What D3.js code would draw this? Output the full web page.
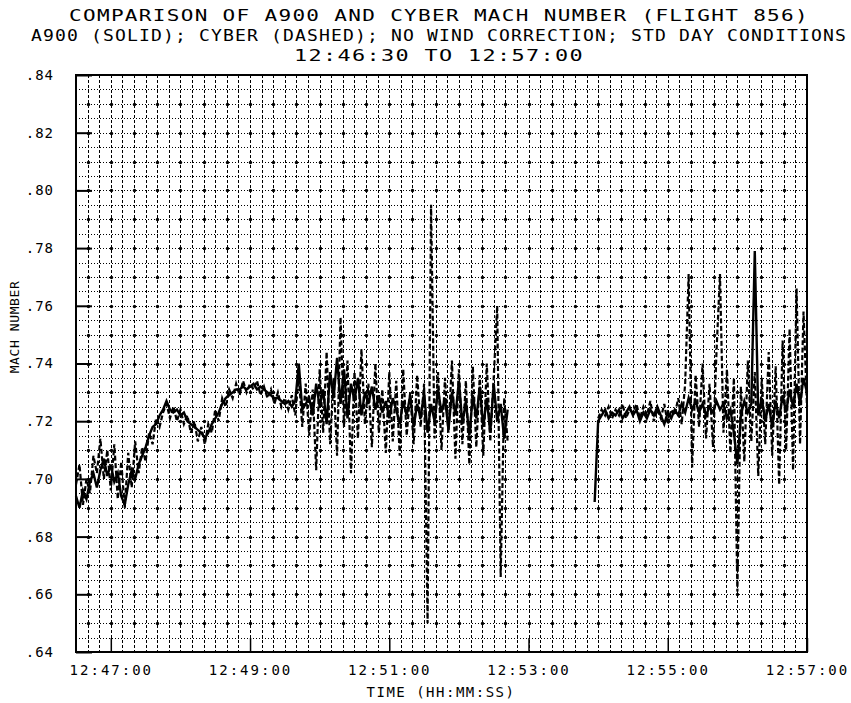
<!DOCTYPE html>
<html>
<head>
<meta charset="utf-8">
<script src="https://cdn.jsdelivr.net/npm/d3@7"></script>
<style>
  body { margin: 0; background: #fff; }
  text { font-family: "DejaVu Sans Mono", monospace; fill: #000; }
</style>
</head>
<body>
<svg id="chart" width="851" height="703"></svg>
<script>
// chart values
const titleLines = [
    "COMPARISON OF A900 AND CYBER MACH NUMBER (FLIGHT 856)",
    "A900 (SOLID); CYBER (DASHED); NO WIND CORRECTION; STD DAY CONDITIONS",
    "12:46:30 TO 12:57:00"
];
const yTicks = [0.64, 0.66, 0.68, 0.70, 0.72, 0.74, 0.76, 0.78, 0.80, 0.82, 0.84];
const yTickLabels = [".64", ".66", ".68", ".70", ".72", ".74", ".76", ".78", ".80", ".82", ".84"];
// seconds after 12:46:30
const xTicks = [30, 150, 270, 390, 510, 630];
const xTickLabels = ["12:47:00", "12:49:00", "12:51:00", "12:53:00", "12:55:00", "12:57:00"];
const sampleSeconds = 3; // one reading every 3 s from 12:46:30

const a900Mach = [
    0.694, 0.690, 0.696, 0.693, 0.699, 0.702, 0.697, 0.703, 0.707, 0.701,
    0.705, 0.699, 0.702, 0.694, 0.691, 0.698, 0.703, 0.700, 0.705, 0.708,
    0.711, 0.715, 0.718, 0.719, 0.722, 0.724, 0.727, 0.724, 0.723, 0.724,
    0.722, 0.723, 0.720, 0.719, 0.718, 0.717, 0.716, 0.714, 0.716, 0.719,
    0.721, 0.723, 0.726, 0.728, 0.729, 0.730, 0.731, 0.731, 0.732, 0.731,
    0.732, 0.733, 0.731, 0.732, 0.731, 0.730, 0.729, 0.728, 0.728, 0.727,
    0.726, 0.727, 0.725, 0.727, 0.740, 0.724, 0.726, 0.728, 0.722, 0.733,
    0.725, 0.731, 0.719, 0.737, 0.728, 0.742, 0.726, 0.738, 0.721, 0.733,
    0.727, 0.735, 0.722, 0.730, 0.726, 0.732, 0.724, 0.729, 0.723, 0.727,
    0.721, 0.728, 0.724, 0.719, 0.727, 0.722, 0.729, 0.718, 0.726, 0.721,
    0.730, 0.716, 0.726, 0.720, 0.731, 0.723, 0.728, 0.717, 0.730, 0.722,
    0.734, 0.719, 0.727, 0.715, 0.729, 0.721, 0.732, 0.718, 0.728, 0.716,
    0.733, 0.720, 0.726, 0.714, 0.724, null, null, null, null, null,
    null, null, null, null, null, null, null, null, null, null,
    null, null, null, null, null, null, null, null, null, 0.692,
    0.720, 0.722, 0.724, 0.721, 0.723, 0.722, 0.724, 0.721, 0.723, 0.725,
    0.722, 0.724, 0.720, 0.723, 0.721, 0.724, 0.722, 0.725, 0.722, 0.719,
    0.723, 0.721, 0.724, 0.722, 0.726, 0.723, 0.728, 0.724, 0.727, 0.723,
    0.726, 0.722, 0.725, 0.723, 0.727, 0.724, 0.726, 0.721, 0.724, 0.716,
    0.705, 0.722, 0.727, 0.723, 0.726, 0.779, 0.722, 0.728, 0.720, 0.726,
    0.718, 0.727, 0.721, 0.729, 0.723, 0.731, 0.725, 0.733, 0.726, 0.735,
    0.730
];

const cyberMach = [
    0.698, 0.705, 0.691, 0.700, 0.695, 0.708, 0.702, 0.714, 0.700, 0.710,
    0.696, 0.712, 0.693, 0.706, 0.690, 0.709, 0.697, 0.713, 0.702, 0.711,
    0.706, 0.716, 0.712, 0.721, 0.718, 0.723, 0.726, 0.721, 0.725, 0.720,
    0.724, 0.719, 0.722, 0.716, 0.720, 0.713, 0.718, 0.712, 0.719, 0.716,
    0.724, 0.720, 0.728, 0.725, 0.731, 0.728, 0.733, 0.729, 0.734, 0.730,
    0.733, 0.731, 0.734, 0.729, 0.732, 0.728, 0.731, 0.726, 0.730, 0.725,
    0.728, 0.724, 0.729, 0.722, 0.736, 0.718, 0.733, 0.715, 0.731, 0.703,
    0.738, 0.716, 0.744, 0.712, 0.735, 0.708, 0.756, 0.718, 0.741, 0.702,
    0.737, 0.714, 0.745, 0.719, 0.733, 0.711, 0.740, 0.716, 0.731, 0.709,
    0.737, 0.713, 0.734, 0.708, 0.738, 0.715, 0.730, 0.712, 0.736, 0.718,
    0.733, 0.650, 0.795, 0.714, 0.737, 0.710, 0.735, 0.716, 0.741, 0.707,
    0.738, 0.712, 0.734, 0.705, 0.739, 0.711, 0.736, 0.708, 0.740, 0.713,
    0.735, 0.760, 0.666, 0.728, 0.713, null, null, null, null, null,
    null, null, null, null, null, null, null, null, null, null,
    null, null, null, null, null, null, null, null, null, null,
    0.721, 0.724, 0.722, 0.725, 0.721, 0.724, 0.722, 0.726, 0.721, 0.724,
    0.723, 0.726, 0.721, 0.725, 0.722, 0.727, 0.720, 0.724, 0.721, 0.726,
    0.719, 0.724, 0.722, 0.728, 0.719, 0.733, 0.771, 0.704, 0.736, 0.718,
    0.740, 0.714, 0.733, 0.711, 0.744, 0.771, 0.716, 0.738, 0.709, 0.735,
    0.661, 0.732, 0.706, 0.741, 0.713, 0.737, 0.701, 0.735, 0.712, 0.744,
    0.708, 0.739, 0.698, 0.748, 0.710, 0.752, 0.703, 0.766, 0.712, 0.758,
    0.725
];

const svg = d3.select("#chart");
const plot = { left: 76, right: 807, top: 75, bottom: 652 };

const x = d3.scaleLinear().domain([0, 630]).range([plot.left, plot.right]);
const y = d3.scaleLinear().domain([0.64, 0.84]).range([plot.bottom, plot.top]);
// snap hairlines onto the pixel grid so the dotted paper stays crisp
const px = v => Math.round(v) + 0.5;

// titles: the plotter lettering is wide, so stretch glyphs and spacing together
const titleWidths = [740, 816, 290];
svg.selectAll(".title")
    .data(titleLines)
    .enter().append("text")
    .attr("class", "title")
    .attr("x", 439)
    .attr("y", (d, i) => 21 + i * 20)
    .attr("text-anchor", "middle")
    .attr("textLength", (d, i) => titleWidths[i])
    .attr("lengthAdjust", "spacingAndGlyphs")
    .style("font-size", "16px")
    .style("letter-spacing", "1px")
    .text(d => d);

// chart-paper grid: dotted lines every 10 s and every .005
const grid = svg.append("g").attr("shape-rendering", "crispEdges");
grid.selectAll(".vgrid")
    .data(d3.range(10, 630, 10))
    .enter().append("line")
    .attr("x1", d => px(x(d))).attr("x2", d => px(x(d)))
    .attr("y1", plot.top).attr("y2", plot.bottom)
    .attr("stroke", "#000")
    .attr("stroke-width", 1)
    .attr("stroke-dasharray", "3,2");
grid.selectAll(".hgrid")
    .data(d3.range(1, 40).map(k => 0.64 + k * 0.005))
    .enter().append("line")
    .attr("x1", plot.left).attr("x2", plot.right)
    .attr("y1", d => px(y(d))).attr("y2", d => px(y(d)))
    .attr("stroke", "#000")
    .attr("stroke-width", 1)
    .attr("stroke-dasharray", "1,2");

// heavier dots where the paper's grid lines cross
const dots = [];
d3.range(1, 20).forEach(k => {
    d3.range(10, 630, 20).forEach(t => dots.push([t, 0.64 + k * 0.01]));
});
svg.append("g").selectAll(".dot")
    .data(dots)
    .enter().append("circle")
    .attr("cx", d => px(x(d[0])))
    .attr("cy", d => px(y(d[1])))
    .attr("r", 1.7)
    .attr("fill", "#000");

// data lines
const line = d3.line()
    .defined(d => d != null)
    .x((d, i) => x(i * sampleSeconds))
    .y(d => y(d));

svg.append("path")
    .datum(cyberMach)
    .attr("d", line)
    .attr("fill", "none")
    .attr("stroke", "#000")
    .attr("stroke-width", 2.2)
    .attr("stroke-dasharray", "5,2.5");

svg.append("path")
    .datum(a900Mach)
    .attr("d", line)
    .attr("fill", "none")
    .attr("stroke", "#000")
    .attr("stroke-width", 2.4);

// frame
svg.append("rect")
    .attr("x", plot.left).attr("y", plot.top)
    .attr("width", plot.right - plot.left)
    .attr("height", plot.bottom - plot.top)
    .attr("fill", "none")
    .attr("stroke", "#000")
    .attr("stroke-width", 2);

// y axis: inward ticks
const yAxis = d3.axisLeft(y)
    .tickValues(yTicks)
    .tickSize(-16)
    .tickPadding(22)
    .tickFormat((d, i) => yTickLabels[i]);
const yG = svg.append("g")
    .attr("transform", `translate(${plot.left},0)`)
    .call(yAxis);
yG.select(".domain").remove();
yG.selectAll("line").attr("stroke", "#000").attr("stroke-width", 2);
yG.selectAll("text")
    .style("font-family", "DejaVu Sans Mono, monospace")
    .style("font-size", "14px")
    .style("letter-spacing", "1px");

// x axis: inward ticks
const xAxis = d3.axisBottom(x)
    .tickValues(xTicks)
    .tickSize(-14)
    .tickPadding(13)
    .tickFormat((d, i) => xTickLabels[i]);
const xG = svg.append("g")
    .attr("transform", `translate(0,${plot.bottom})`)
    .call(xAxis);
xG.select(".domain").remove();
xG.selectAll("line").attr("stroke", "#000").attr("stroke-width", 1.5);
xG.selectAll("text")
    .style("font-family", "DejaVu Sans Mono, monospace")
    .style("font-size", "14px")
    .style("letter-spacing", "2px");

// axis titles
svg.append("text")
    .attr("x", 441)
    .attr("y", 697)
    .attr("text-anchor", "middle")
    .style("font-size", "14px")
    .style("letter-spacing", "1.5px")
    .text("TIME (HH:MM:SS)");

svg.append("text")
    .attr("transform", "translate(19,327) rotate(-90)")
    .attr("text-anchor", "middle")
    .style("font-size", "13px")
    .style("letter-spacing", "0.6px")
    .text("MACH NUMBER");
</script>
</body>
</html>
